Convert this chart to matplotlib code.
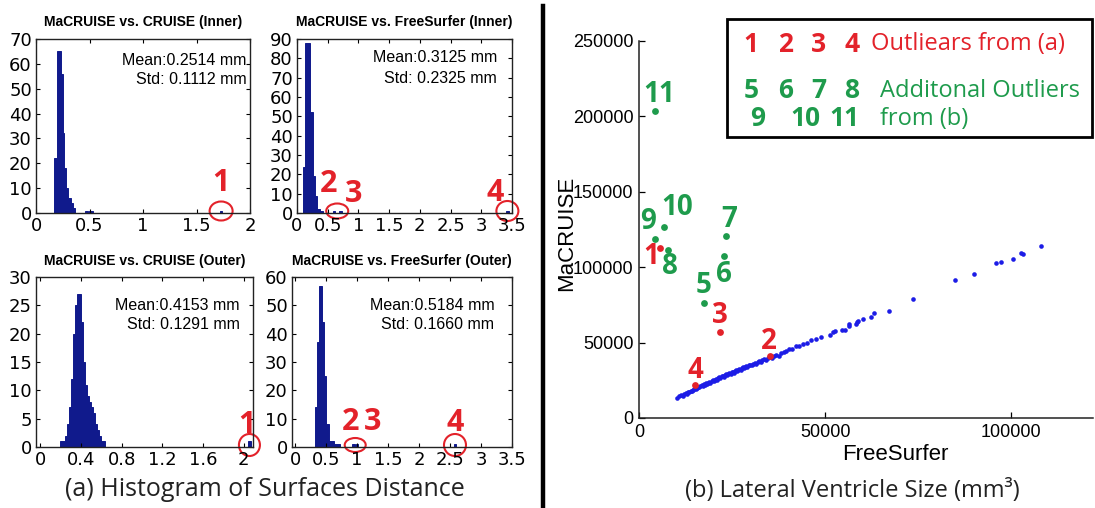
import matplotlib
matplotlib.use('Agg')
import matplotlib.pyplot as plt
from matplotlib.patches import Ellipse, Rectangle
from matplotlib.lines import Line2D
from matplotlib.transforms import ScaledTranslation

W, H, DPI = 1095, 508, 100
RED = '#e3222a'
GREEN = '#1e9b4c'
NAVY = '#101a8c'
BLUE = '#1c1ce6'

# ---------------- histogram data (bar left edge, width, count) ----------------
tl_title = 'MaCRUISE vs. CRUISE (Inner)'
tl_stats = ['Mean:0.2514 mm', 'Std: 0.1112 mm']
tl_left = [0.170, 0.195, 0.233, 0.251, 0.266, 0.282, 0.303, 0.326, 0.350, 0.455, 0.495, 1.720]
tl_width = [0.025, 0.038, 0.018, 0.015, 0.016, 0.021, 0.023, 0.024, 0.016, 0.035, 0.035, 0.020]
tl_count = [22, 65, 56, 32, 18, 10, 6, 4, 2, 1, 1, 1]
tl_xticks = [0, 0.5, 1, 1.5, 2]
tl_yticks = [0, 10, 20, 30, 40, 50, 60, 70]

tr_title = 'MaCRUISE vs. FreeSurfer (Inner)'
tr_stats = ['Mean:0.3125 mm', 'Std: 0.2325 mm']
tr_left = [0.093, 0.130, 0.210, 0.255, 0.293, 0.320, 0.370, 0.580, 0.690, 3.400]
tr_width = [0.037, 0.080, 0.045, 0.038, 0.027, 0.050, 0.060, 0.040, 0.040, 0.050]
tr_count = [24, 88, 52, 19, 9, 2, 1, 1, 1, 1]
tr_xticks = [0, 0.5, 1, 1.5, 2, 2.5, 3, 3.5]
tr_yticks = [0, 10, 20, 30, 40, 50, 60, 70, 80, 90]

bl_title = 'MaCRUISE vs. CRUISE (Outer)'
bl_stats = ['Mean:0.4153 mm', 'Std: 0.1291 mm']
bl_left = [0.20, 0.22, 0.24, 0.26, 0.28, 0.30, 0.32, 0.34, 0.36, 0.38, 0.40,
           0.42, 0.44, 0.46, 0.48, 0.50, 0.52, 0.54, 0.56, 0.58, 0.60, 0.62, 2.040]
bl_width = [0.02] * 22 + [0.03]
bl_count = [1, 1, 2, 4, 7, 12, 20, 25, 27, 27, 22, 15, 11, 9, 8, 7, 6, 4, 3, 2, 1, 1, 1]
bl_xticks = [0, 0.4, 0.8, 1.2, 1.6, 2]
bl_yticks = [0, 5, 10, 15, 20, 25, 30]

br_title = 'MaCRUISE vs. FreeSurfer (Outer)'
br_stats = ['Mean:0.5184 mm', 'Std: 0.1660 mm']
br_left = [0.32, 0.36, 0.39, 0.44, 0.47, 0.50, 0.54, 0.62, 0.92, 0.98, 2.56]
br_width = [0.04, 0.03, 0.05, 0.03, 0.03, 0.04, 0.08, 0.11, 0.04, 0.04, 0.04]
br_count = [14, 37, 57, 44, 25, 8, 2, 1, 1, 1, 1]
br_xticks = [0, 0.5, 1, 1.5, 2, 2.5, 3, 3.5]
br_yticks = [0, 10, 20, 30, 40, 50, 60]

# ---------------- scatter data ----------------
blue_x = [10200, 10800, 11300, 11700, 12100, 12500, 12800, 13200, 13500, 13900,
          14200, 14600, 14900, 15300, 15600, 15900, 16200, 16500, 16800, 17100,
          17400, 17700, 18000, 18300, 18600, 18900, 19200, 19500, 19800, 20100,
          20400, 20700, 21000, 21300, 21600, 21900, 22200, 22500, 22800, 23100,
          23400, 23700, 24000, 24300, 24600, 24900, 25200, 25500, 25800, 26100,
          26400, 26700, 27000, 27300, 27600, 27900, 28200, 28500, 28800, 29100,
          29500, 29900, 30300, 30700, 31100, 31500, 31900, 32300, 32700, 33100,
          33600, 34100, 34600, 35100, 35700, 36300, 36900, 37500, 38200, 38900,
          39600, 40400, 41200, 42100, 43000, 44000, 45100, 46300, 47500, 48800,
          51300, 52200, 52700, 54500, 55400, 56300, 56400, 58300, 58500, 58900,
          60300, 62300, 63200, 67200, 73700, 84900, 90000, 96000, 97400, 100500,
          102600, 103200, 108100]
blue_y = [13500, 14300, 15100, 14900, 15800, 16400, 16000, 17200, 16900, 18100,
          17900, 18800, 19500, 19100, 20000, 20600, 20300, 21200, 21700, 21200,
          22300, 21900, 23000, 22700, 23500, 24100, 23500, 24600, 25000, 24500,
          25500, 26100, 25500, 26600, 27000, 26400, 27500, 28000, 27400, 28500,
          28900, 28300, 29400, 29900, 29300, 30400, 30700, 30100, 31200, 31700,
          31000, 32100, 32600, 31900, 33100, 33500, 32800, 33900, 34400, 33800,
          35000, 35400, 34800, 36000, 36500, 35800, 37100, 37500, 36900, 38200,
          38900, 38300, 39700, 40300, 39800, 41300, 41900, 41300, 43000, 43700,
          44300, 45700, 45900, 47400, 47800, 49300, 49900, 51600, 52200, 53900,
          55300, 56800, 57900, 58600, 58500, 62300, 61200, 62300, 63400, 64500,
          65600, 66700, 69300, 71100, 78800, 91600, 95400, 102600, 103500, 105500,
          109000, 108400, 113800]

red_ids = ['1', '2', '3', '4']
red_x = [5760, 35300, 21850, 15150]
red_y = [112700, 40790, 56780, 21710]

green_ids = ['5', '6', '7', '8', '9', '10', '11']
green_x = [17370, 22740, 23380, 7720, 4240, 6650, 4240]
green_y = [76510, 107240, 120400, 111000, 118880, 126780, 203490]

sc_xticks = [0, 50000, 100000]
sc_yticks = [0, 50000, 100000, 150000, 200000, 250000]

# ---------------- figure ----------------
fig = plt.figure(figsize=(W / DPI, H / DPI), dpi=DPI)
fig.patch.set_facecolor('white')


def add_ax(l, t, r, b):
    return fig.add_axes([l / W, 1 - b / H, (r - l) / W, (b - t) / H])


def fmt(v):
    return '%g' % v


def hist_panel(box, title, stats, left, width, count, xlim, ylim, xticks, yticks, stat_pos):
    ax = add_ax(*box)
    ax.bar(left, count, width=width, align='edge', color=NAVY, edgecolor=NAVY, linewidth=0.7)
    ax.set_xlim(*xlim)
    ax.set_ylim(*ylim)
    ax.set_xticks(xticks)
    ax.set_xticklabels([fmt(v) for v in xticks])
    ax.set_yticks(yticks)
    ax.set_yticklabels([fmt(v) for v in yticks])
    ax.tick_params(direction='in', top=True, right=True, length=3, width=0.8,
                   labelsize=13, pad=3, colors='black')
    for lab in ax.get_xticklabels() + ax.get_yticklabels():
        lab.set_family('DejaVu Sans')
    for sp in ax.spines.values():
        sp.set_linewidth(1.0)
        sp.set_color('#222222')
    ax.set_title(title, fontsize=10, fontweight='bold', family='Liberation Sans', pad=9)
    ax.text(stat_pos[0], stat_pos[1], stats[0], transform=ax.transAxes, ha='right', va='center',
            fontsize=11.5, family='Liberation Sans')
    ax.text(stat_pos[0], stat_pos[2], stats[1], transform=ax.transAxes, ha='right', va='center',
            fontsize=11.5, family='Liberation Sans')
    return ax


def mark(ax, idx, left, width, size, labels, offsets, fs=22):
    centers = [left[i] + width[i] / 2 for i in idx]
    xc = sum(centers) / len(centers)
    tr = fig.dpi_scale_trans + ScaledTranslation(xc, 0, ax.transData)
    e = Ellipse((0, 2.0 / DPI), size[0] / DPI, size[1] / DPI, transform=tr,
                fill=False, ec=RED, lw=1.5, clip_on=False)
    ax.add_artist(e)
    for lab, (dx, dy) in zip(labels, offsets):
        ax.annotate(lab, xy=(xc, 0), xytext=(dx, dy + 2), textcoords='offset pixels',
                    ha='center', va='center', fontsize=fs, fontweight='bold', color=RED,
                    family='Open Sans', annotation_clip=False)


ax_tl = hist_panel((36, 39, 250, 213), tl_title, tl_stats, tl_left, tl_width, tl_count,
                   (0, 2), (0, 70), tl_xticks, tl_yticks, (0.985, 0.875, 0.765))
mark(ax_tl, [11], tl_left, tl_width, (23, 19), ['1'], [(0, 28)])

ax_tr = hist_panel((297, 39, 512, 213), tr_title, tr_stats, tr_left, tr_width, tr_count,
                   (0, 3.5), (0, 90), tr_xticks, tr_yticks, (0.93, 0.895, 0.775))
mark(ax_tr, [7, 8], tr_left, tr_width, (22, 15), ['2', '3'], [(-9, 27), (16, 17)])
mark(ax_tr, [9], tr_left, tr_width, (22, 20), ['4'], [(-12, 18)])

ax_bl = hist_panel((36, 277, 253, 447), bl_title, bl_stats, bl_left, bl_width, bl_count,
                   (-0.04, 2.09), (0, 30), bl_xticks, bl_yticks, (0.94, 0.83, 0.72))
mark(ax_bl, [22], bl_left, bl_width, (21, 22), ['1'], [(-3, 20)])

ax_br = hist_panel((292, 277, 512, 447), br_title, br_stats, br_left, br_width, br_count,
                   (-0.05, 3.5), (0, 60), br_xticks, br_yticks, (0.92, 0.83, 0.72))
mark(ax_br, [8, 9], br_left, br_width, (21, 14), ['2', '3'], [(-5, 23), (17, 23)])
mark(ax_br, [10], br_left, br_width, (22, 22), ['4'], [(0, 22)])

fig.text(265 / W, 1 - 490 / H, '(a) Histogram of Surfaces Distance', ha='center', va='center',
         fontsize=18, family='Open Sans', color='#222222')

# divider
fig.add_artist(Line2D([543 / W, 543 / W], [0, 1 - 6 / H], transform=fig.transFigure,
                      color='black', lw=3.2))

# ---------------- scatter ----------------
ax_s = add_ax(639, 40.7, 1093, 418)
ax_s.scatter(blue_x, blue_y, s=11, color=BLUE, linewidths=0, zorder=2)
ax_s.scatter(red_x, red_y, s=24, color=RED, linewidths=0, zorder=3)
ax_s.scatter(green_x, green_y, s=24, color=GREEN, linewidths=0, zorder=3)
ax_s.set_xlim(0, 122000)
ax_s.set_ylim(0, 250000)
ax_s.set_xticks(sc_xticks)
ax_s.set_xticklabels([str(v) for v in sc_xticks])
ax_s.set_yticks(sc_yticks)
ax_s.set_yticklabels([str(v) for v in sc_yticks])
ax_s.spines['top'].set_visible(False)
ax_s.spines['right'].set_visible(False)
for sp in ('left', 'bottom'):
    ax_s.spines[sp].set_linewidth(1.1)
    ax_s.spines[sp].set_color('#222222')
ax_s.tick_params(direction='in', length=4, width=0.9, labelsize=13, pad=4)
for lab in ax_s.get_xticklabels() + ax_s.get_yticklabels():
    lab.set_family('Liberation Sans')
ax_s.set_xlabel('FreeSurfer', fontsize=16, family='Liberation Sans')
ax_s.set_ylabel('MaCRUISE', fontsize=16, family='Liberation Sans')
ax_s.xaxis.set_label_coords(0.564, -0.068)
ax_s.yaxis.set_label_coords(-0.136, 0.49)

red_off = {'1': (-9, -9), '2': (-2, 15), '3': (0, 17), '4': (0, 15)}
green_off = {'5': (0, 17), '6': (0, -18), '7': (3, 17), '8': (2, -16),
             '9': (-7, 17), '10': (13, 19), '11': (4, 16)}
for lab, x, y in zip(red_ids, red_x, red_y):
    ax_s.annotate(lab, xy=(x, y), xytext=red_off[lab], textcoords='offset pixels',
                  ha='center', va='center', fontsize=20, fontweight='bold', color=RED,
                  family='Open Sans', annotation_clip=False)
for lab, x, y in zip(green_ids, green_x, green_y):
    ax_s.annotate(lab, xy=(x, y), xytext=green_off[lab], textcoords='offset pixels',
                  ha='center', va='center', fontsize=20, fontweight='bold', color=GREEN,
                  family='Open Sans', annotation_clip=False)

# legend box
fig.add_artist(Rectangle((727 / W, 1 - 137 / H), (1092 - 727) / W, (137 - 19) / H,
                         transform=fig.transFigure, fill=False, ec='black', lw=2))


def ftext(x, y, s, **kw):
    fig.text(x / W, 1 - y / H, s, **kw)


leg_num = dict(ha='center', va='center', fontsize=19, fontweight='bold', family='Open Sans')
for lab, x in zip(red_ids, [751, 786, 819, 852]):
    ftext(x, 44, lab, color=RED, **leg_num)
for lab, x in zip(green_ids[:4], [751, 786, 819, 852]):
    ftext(x, 91, lab, color=GREEN, **leg_num)
for lab, x in zip(green_ids[4:], [758, 805, 844]):
    ftext(x, 119, lab, color=GREEN, **leg_num)
leg_txt = dict(ha='left', va='center', fontsize=17, family='Open Sans')
ftext(871, 44, 'Outliears from (a)', color=RED, **leg_txt)
ftext(880, 91, 'Additonal Outliers', color=GREEN, **leg_txt)
ftext(880, 119, 'from (b)', color=GREEN, **leg_txt)

ftext(852, 491, '(b) Lateral Ventricle Size (mm\u00b3)', ha='center', va='center',
      fontsize=17, family='Open Sans', color='#222222')

fig.savefig('out.png', dpi=DPI)
